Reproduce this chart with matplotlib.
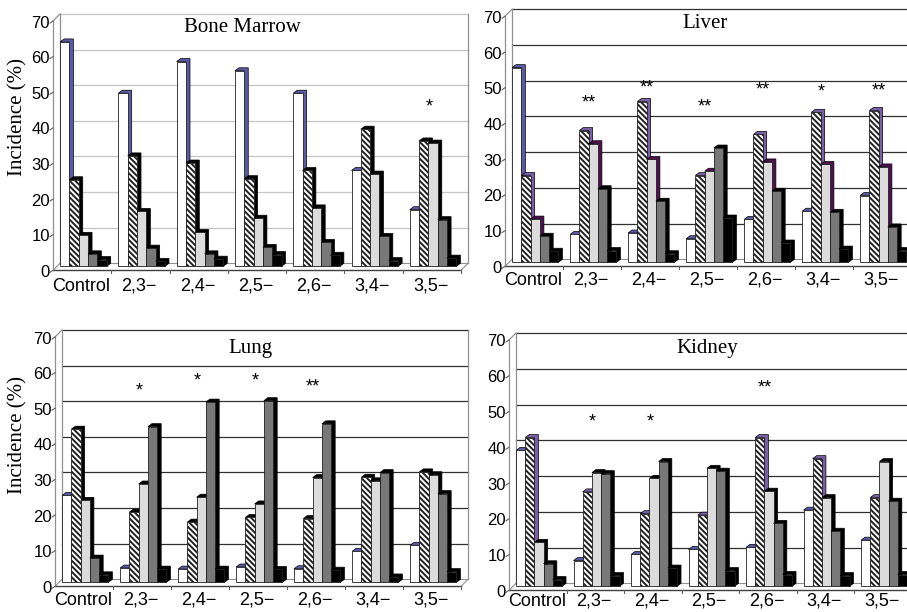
import matplotlib
matplotlib.use('Agg')
import matplotlib.pyplot as plt
from matplotlib.patches import Rectangle, Polygon

plt.rcParams['font.family'] = ['Liberation Sans', 'DejaVu Sans']
plt.rcParams['hatch.linewidth'] = 1.4

W, H = 907, 612

groups = ['Control', '2,3−', '2,4−', '2,5−', '2,6−', '3,4−', '3,5−']

# incidence (%) of the 5 grades, one row per grade, one column per group
bone_marrow = [[63.0, 48.6, 57.5, 54.9, 48.6, 26.9, 15.9],
               [24.3, 31.0, 29.0, 24.6, 26.9, 38.5, 35.2],
               [8.7, 15.4, 9.5, 13.5, 16.4, 25.9, 34.6],
               [3.5, 5.1, 3.5, 5.3, 6.7, 8.4, 13.1],
               [1.9, 1.4, 2.0, 3.3, 3.1, 1.6, 2.3]]
liver = [[54.5, 7.8, 8.2, 6.6, 12.0, 14.3, 18.7],
         [24.3, 36.9, 45.0, 24.3, 35.8, 42.0, 42.5],
         [12.1, 33.2, 28.8, 25.5, 28.1, 27.4, 26.7],
         [7.3, 20.6, 17.1, 32.0, 19.9, 14.0, 9.9],
         [3.1, 3.3, 2.4, 12.4, 5.4, 3.7, 3.3]]
lung = [[24.4, 4.0, 3.7, 4.3, 3.8, 8.7, 10.4],
        [43.0, 19.7, 16.9, 18.2, 17.9, 29.5, 31.0],
        [23.0, 27.6, 23.9, 22.0, 29.4, 28.5, 30.2],
        [6.8, 43.7, 50.6, 51.0, 44.5, 30.8, 24.9],
        [2.1, 3.7, 3.7, 3.6, 3.4, 1.5, 3.0]]
kidney = [[38.0, 7.2, 8.9, 10.3, 10.9, 21.3, 12.9],
          [41.6, 26.4, 20.3, 19.9, 41.6, 35.7, 24.8],
          [12.3, 31.8, 30.2, 33.0, 26.6, 24.8, 34.9],
          [6.3, 31.5, 34.9, 32.2, 17.6, 15.4, 23.8],
          [1.9, 3.0, 5.1, 4.4, 3.3, 3.0, 3.3]]

# significance marks: group index, text, height
bm_stars = [(6, '*', 43.8)]
liver_stars = [(1, '**', 43.8), (2, '**', 48.0), (3, '**', 42.7),
               (4, '**', 47.4), (5, '*', 46.8), (6, '**', 47.1)]
lung_stars = [(1, '*', 53.0), (2, '*', 55.6), (3, '*', 55.6), (4, '**', 53.9)]
kidney_stars = [(1, '*', 45.2), (2, '*', 45.2), (4, '**', 54.7)]

faces = ['white', 'white', '#dcdcdc', '#787878', 'black']
hatches = [None, '\\\\\\\\\\\\', None, None, None]

fig = plt.figure(figsize=(W / 100, H / 100), dpi=100)


def draw_panel(px, vals, title, title_px, sides, grid_col, stars, right_edge, lab_off):
    # px = left, top(70 line), right, bottom(0 line) in pixels
    rect = [px[0] / W, 1 - px[3] / H, (px[2] - px[0]) / W, (px[3] - px[1]) / H]
    ax = fig.add_axes(rect)
    ax.set_xlim(0, 7)
    ax.set_ylim(0, 70)
    ax.axis('off')
    ux = (px[2] - px[0]) / 7.0
    uy = (px[3] - px[1]) / 70.0
    dx, dy = 4 / ux, 3 / uy
    fx, fy = 7 / ux, 7 / uy

    # back wall + grid
    for v in range(10, 80, 10):
        ax.plot([0, 7], [v, v], color=grid_col, lw=0.9, clip_on=False, zorder=1)
    ax.plot([0, 7], [0, 0], color='#909090', lw=0.8, clip_on=False, zorder=1)
    ax.plot([0, 0], [0, 70], color='#909090', lw=0.9, clip_on=False, zorder=1)
    ax.plot([-fx, -fx], [-fy, 70 - fy], color='#909090', lw=0.9, clip_on=False, zorder=1)
    ax.plot([-fx, 0], [70 - fy, 70], color='#909090', lw=0.9, clip_on=False, zorder=1)
    ax.plot([-fx, 7 - fx], [-fy, -fy], color='#404040', lw=1.0, clip_on=False, zorder=1)
    ax.plot([-fx, 0], [-fy, 0], color='#909090', lw=0.8, clip_on=False, zorder=1)
    if right_edge:
        ax.plot([7, 7], [0, 70], color='#909090', lw=0.9, clip_on=False, zorder=1)
        ax.plot([7 - fx, 7], [-fy, 0], color='#909090', lw=0.8, clip_on=False, zorder=1)
    for k in range(1, 8):
        ax.plot([k - fx, k - fx], [-fy, -fy - 3 / uy], color='#606060', lw=0.8, clip_on=False)

    # y ticks on the front edge
    for v in range(0, 80, 10):
        ax.plot([-fx - 3 / ux, -fx], [v - fy - 2 / uy, v - fy], color='#606060', lw=0.8, clip_on=False)
        ax.text(-fx - 3 / ux, v - fy - 2 / uy, str(v), ha='right', va='center', fontsize=12)

    # bars
    w = 0.16
    z = 3
    for k in range(7):
        for j in range(5):
            v = vals[j][k]
            xl = k + 0.07 + j * w
            side = [(xl - dx, v - dy), (xl, v), (xl + w, v), (xl + w, 0),
                    (xl + w - dx, -dy), (xl + w - dx, v - dy)]
            ax.add_patch(Polygon(side, closed=True, facecolor=sides[j], edgecolor='black',
                                 lw=0.5, zorder=z, clip_on=False))
            ax.add_patch(Rectangle((xl - dx, -dy), w, v, facecolor=faces[j], edgecolor='#202020',
                                   hatch=hatches[j], lw=0.6, zorder=z + 1, clip_on=False))
            z += 2
        ax.text(k + 0.36, -lab_off / uy, groups[k], ha='center', va='center', fontsize=13)

    for k, s, y in stars:
        ax.text(k + 0.33, y, s, ha='center', va='center', fontsize=13)

    fig.text(title_px[0] / W, 1 - title_px[1] / H, title, ha='center', va='center',
             family='Liberation Serif', fontsize=15)
    return ax


draw_panel([60, 14, 468, 263.3], bone_marrow, 'Bone Marrow', (242, 28),
           ['#5a5aa6', 'black', 'black', 'black', 'black'], '#c4c4c4', bm_stars, True, 23)
draw_panel([512, 9.3, 918, 259.3], liver, 'Liver', (705, 23),
           ['#5a5aa6', '#7860a8', '#501050', 'black', 'black'], '#303030', liver_stars, False, 21)
draw_panel([62, 330, 468, 579.3], lung, 'Lung', (250, 348),
           ['#5a5aa6', 'black', 'black', 'black', 'black'], '#303030', lung_stars, True, 21)
draw_panel([516, 333, 918.5, 583.3], kidney, 'Kidney', (707, 348),
           ['#5a5aa6', '#7860a8', 'black', 'black', 'black'], '#303030', kidney_stars, False, 18)

for y in (117, 435):
    fig.text(18 / W, 1 - y / H, 'Incidence (%)', rotation=90, ha='center', va='center',
             family='Liberation Serif', fontsize=15)

fig.savefig('out.png', dpi=100)
